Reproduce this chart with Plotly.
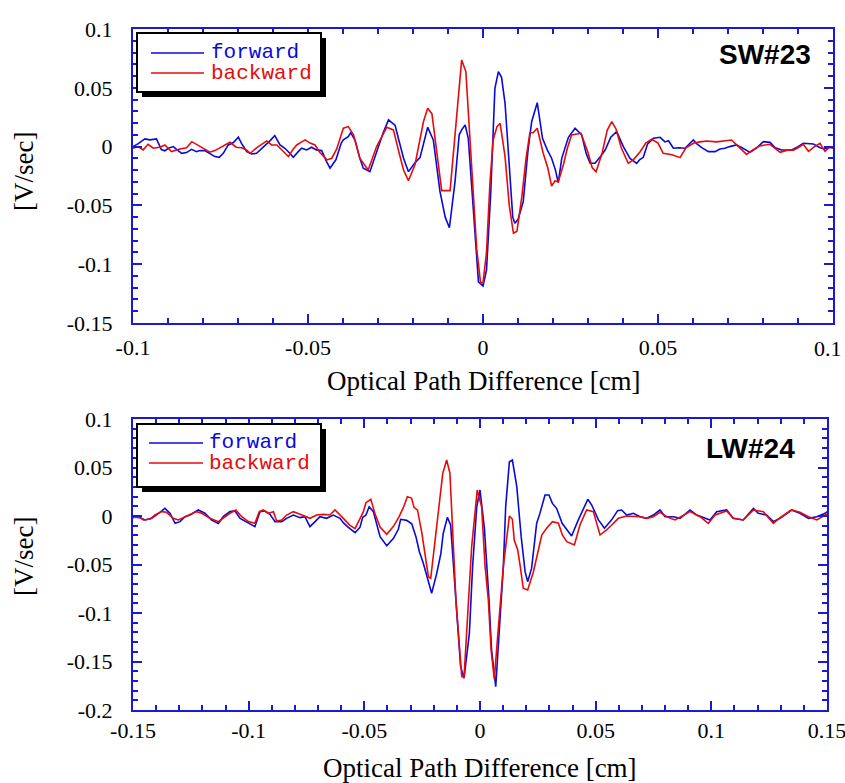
import plotly.graph_objects as go

# ---------------- data ----------------
sw_fwd_x = [-0.1000,-0.0985,-0.0966,-0.0952,-0.0933,-0.0919,-0.0909,-0.0899,-0.0885,-0.0871,-0.0861,-0.0847,-0.0833,-0.0818,-0.0809,-0.0795,-0.0780,-0.0766,-0.0754,-0.0742,-0.0728,-0.0713,-0.0699,-0.0690,-0.0675,-0.0661,-0.0647,-0.0633,-0.0618,-0.0606,-0.0595,-0.0580,-0.0566,-0.0552,-0.0542,-0.0528,-0.0518,-0.0504,-0.0490,-0.0476,-0.0461,-0.0447,-0.0437,-0.0420,-0.0405,-0.0399,-0.0385,-0.0378,-0.0365,-0.0352,-0.0342,-0.0323,-0.0305,-0.0285,-0.0270,-0.0251,-0.0240,-0.0227,-0.0213,-0.0195,-0.0180,-0.0168,-0.0158,-0.0142,-0.0123,-0.0108,-0.0096,-0.0080,-0.0068,-0.0061,-0.0051,-0.0042,-0.0028,-0.0013,0.0000,0.0010,0.0022,0.0034,0.0044,0.0053,0.0063,0.0075,0.0085,0.0091,0.0100,0.0115,0.0128,0.0139,0.0155,0.0170,0.0184,0.0196,0.0207,0.0215,0.0225,0.0244,0.0263,0.0282,0.0295,0.0306,0.0320,0.0334,0.0349,0.0365,0.0382,0.0401,0.0420,0.0439,0.0448,0.0458,0.0470,0.0487,0.0506,0.0520,0.0530,0.0544,0.0560,0.0577,0.0590,0.0601,0.0612,0.0625,0.0644,0.0663,0.0677,0.0691,0.0705,0.0724,0.0740,0.0763,0.0782,0.0801,0.0820,0.0835,0.0853,0.0882,0.0900,0.0915,0.0944,0.0963,0.0975,0.0991,0.1000]
sw_fwd_y = [0.0000,0.0025,0.0065,0.0057,0.0065,-0.0025,-0.0036,-0.0014,0.0000,-0.0034,-0.0057,-0.0051,-0.0023,-0.0043,-0.0034,-0.0034,-0.0057,-0.0085,-0.0091,-0.0057,0.0014,0.0034,0.0080,0.0028,-0.0043,-0.0063,-0.0057,-0.0014,0.0023,0.0057,0.0094,0.0014,-0.0014,-0.0057,-0.0091,-0.0043,-0.0014,-0.0028,-0.0005,-0.0028,-0.0034,-0.0128,-0.0184,-0.0110,0.0030,0.0057,0.0085,0.0118,0.0050,-0.0100,-0.0184,-0.0213,-0.0060,0.0120,0.0227,0.0180,0.0050,-0.0099,-0.0213,-0.0140,-0.0094,0.0060,0.0164,0.0057,-0.0380,-0.0600,-0.0690,-0.0300,0.0100,0.0142,0.0184,0.0070,-0.0500,-0.1150,-0.1185,-0.1050,-0.0400,0.0496,0.0637,0.0589,0.0368,-0.0200,-0.0600,-0.0652,-0.0620,-0.0468,-0.0050,0.0212,0.0373,0.0071,-0.0030,-0.0099,-0.0200,-0.0307,-0.0100,0.0079,0.0156,0.0099,-0.0060,-0.0142,-0.0142,-0.0090,-0.0029,0.0080,0.0127,0.0000,-0.0100,-0.0142,-0.0110,-0.0091,0.0020,0.0071,0.0079,0.0040,0.0050,-0.0014,-0.0010,-0.0014,0.0020,0.0056,0.0020,-0.0009,-0.0043,-0.0043,-0.0020,-0.0014,0.0000,0.0014,-0.0010,-0.0049,-0.0010,0.0042,0.0036,-0.0010,-0.0029,-0.0029,0.0000,0.0028,0.0022,-0.0010,-0.0020,-0.0005,-0.0010]

sw_bwd_x = [-0.1000,-0.0985,-0.0971,-0.0957,-0.0942,-0.0923,-0.0909,-0.0890,-0.0866,-0.0847,-0.0832,-0.0814,-0.0799,-0.0780,-0.0766,-0.0752,-0.0737,-0.0723,-0.0705,-0.0690,-0.0675,-0.0665,-0.0647,-0.0633,-0.0618,-0.0604,-0.0589,-0.0571,-0.0556,-0.0542,-0.0532,-0.0518,-0.0508,-0.0494,-0.0480,-0.0466,-0.0446,-0.0432,-0.0418,-0.0399,-0.0385,-0.0370,-0.0352,-0.0328,-0.0304,-0.0275,-0.0256,-0.0240,-0.0227,-0.0213,-0.0194,-0.0170,-0.0158,-0.0146,-0.0118,-0.0094,-0.0075,-0.0061,-0.0049,-0.0035,-0.0018,-0.0007,0.0000,0.0010,0.0020,0.0029,0.0040,0.0049,0.0063,0.0075,0.0087,0.0097,0.0111,0.0123,0.0134,0.0144,0.0155,0.0172,0.0185,0.0196,0.0206,0.0215,0.0230,0.0241,0.0253,0.0280,0.0300,0.0312,0.0323,0.0340,0.0355,0.0368,0.0380,0.0395,0.0415,0.0430,0.0449,0.0465,0.0482,0.0500,0.0515,0.0540,0.0563,0.0580,0.0601,0.0620,0.0639,0.0667,0.0690,0.0710,0.0730,0.0753,0.0770,0.0791,0.0820,0.0849,0.0870,0.0887,0.0900,0.0915,0.0930,0.0945,0.0963,0.0977,0.0990,0.1000]
sw_bwd_y = [-0.0014,0.0000,-0.0028,0.0020,-0.0014,-0.0006,0.0014,-0.0042,-0.0020,-0.0010,0.0042,0.0010,-0.0010,-0.0048,-0.0034,-0.0010,0.0010,0.0037,-0.0005,-0.0010,-0.0030,-0.0057,-0.0010,0.0020,0.0048,0.0014,0.0014,-0.0040,-0.0085,-0.0020,0.0014,0.0040,0.0057,0.0030,0.0014,-0.0050,-0.0113,-0.0099,-0.0020,0.0156,0.0170,0.0100,-0.0099,-0.0199,0.0000,0.0164,0.0142,-0.0050,-0.0199,-0.0290,-0.0150,0.0213,0.0326,0.0280,-0.0374,-0.0374,0.0300,0.0737,0.0638,0.0000,-0.0870,-0.1157,-0.1157,-0.0900,-0.0300,0.0056,0.0170,0.0198,-0.0086,-0.0500,-0.0737,-0.0720,-0.0426,-0.0100,0.0118,0.0120,0.0156,-0.0057,-0.0180,-0.0335,-0.0290,-0.0300,-0.0150,-0.0014,0.0099,0.0113,-0.0050,-0.0180,-0.0213,-0.0060,0.0140,0.0212,0.0150,-0.0010,-0.0142,-0.0110,-0.0043,0.0030,0.0062,0.0030,-0.0057,-0.0070,-0.0094,-0.0010,0.0028,0.0040,0.0048,0.0040,0.0050,0.0056,0.0000,-0.0066,-0.0030,0.0006,0.0020,-0.0049,-0.0030,-0.0030,-0.0010,0.0020,-0.0040,-0.0005,0.0028,-0.0040,-0.0005,-0.0015]

lw_fwd_x = [-0.1500,-0.1470,-0.1448,-0.1419,-0.1384,-0.1362,-0.1340,-0.1318,-0.1297,-0.1275,-0.1254,-0.1218,-0.1189,-0.1160,-0.1131,-0.1110,-0.1081,-0.1059,-0.1037,-0.1009,-0.0973,-0.0951,-0.0930,-0.0908,-0.0886,-0.0857,-0.0836,-0.0807,-0.0778,-0.0757,-0.0735,-0.0713,-0.0692,-0.0663,-0.0634,-0.0605,-0.0591,-0.0569,-0.0540,-0.0519,-0.0507,-0.0493,-0.0479,-0.0461,-0.0447,-0.0432,-0.0403,-0.0374,-0.0353,-0.0343,-0.0317,-0.0295,-0.0277,-0.0262,-0.0245,-0.0209,-0.0187,-0.0169,-0.0159,-0.0141,-0.0127,-0.0101,-0.0084,-0.0069,-0.0046,-0.0032,-0.0014,0.0000,0.0019,0.0039,0.0050,0.0068,0.0082,0.0101,0.0111,0.0127,0.0140,0.0159,0.0178,0.0195,0.0206,0.0223,0.0245,0.0259,0.0281,0.0298,0.0313,0.0331,0.0355,0.0378,0.0396,0.0425,0.0447,0.0466,0.0483,0.0512,0.0538,0.0569,0.0595,0.0612,0.0634,0.0663,0.0692,0.0721,0.0749,0.0778,0.0800,0.0836,0.0865,0.0908,0.0937,0.0973,0.0994,0.1023,0.1066,0.1095,0.1138,0.1182,0.1203,0.1239,0.1268,0.1297,0.1347,0.1383,0.1420,0.1456,0.1492,0.1500]
lw_fwd_y = [-0.0010,-0.0017,-0.0041,-0.0024,0.0038,0.0079,0.0028,-0.0076,-0.0058,-0.0007,0.0010,0.0062,0.0028,-0.0041,-0.0076,-0.0007,0.0045,0.0052,-0.0024,-0.0058,-0.0110,0.0045,0.0052,0.0017,-0.0058,-0.0058,-0.0024,0.0010,-0.0017,-0.0007,-0.0110,-0.0058,-0.0007,-0.0024,0.0010,-0.0024,-0.0069,-0.0117,-0.0172,-0.0117,-0.0014,0.0010,0.0096,0.0045,-0.0076,-0.0213,-0.0306,-0.0230,-0.0137,-0.0034,-0.0045,-0.0081,-0.0213,-0.0368,-0.0488,-0.0797,-0.0591,-0.0385,-0.0180,-0.0014,-0.0093,-0.0935,-0.1550,-0.1673,-0.1210,-0.0520,0.0096,0.0268,-0.0127,-0.0866,-0.1380,-0.1760,-0.1280,-0.0520,0.0096,0.0560,0.0577,0.0302,-0.0213,-0.0574,-0.0677,-0.0540,-0.0075,0.0027,0.0216,0.0216,0.0130,0.0079,-0.0075,-0.0144,-0.0206,-0.0040,0.0079,0.0172,0.0113,-0.0040,-0.0127,-0.0040,0.0055,0.0062,0.0010,0.0028,-0.0007,-0.0024,0.0010,0.0062,-0.0007,-0.0007,-0.0024,0.0062,0.0010,-0.0024,-0.0041,0.0045,0.0062,-0.0024,-0.0041,0.0079,0.0028,0.0010,-0.0058,-0.0024,0.0062,0.0028,-0.0024,-0.0007,0.0028,0.0045]

lw_bwd_x = [-0.1500,-0.1476,-0.1455,-0.1426,-0.1405,-0.1376,-0.1355,-0.1326,-0.1304,-0.1283,-0.1261,-0.1225,-0.1203,-0.1167,-0.1131,-0.1102,-0.1081,-0.1055,-0.1030,-0.1001,-0.0973,-0.0954,-0.0937,-0.0915,-0.0893,-0.0879,-0.0857,-0.0836,-0.0807,-0.0778,-0.0735,-0.0706,-0.0677,-0.0649,-0.0627,-0.0598,-0.0562,-0.0540,-0.0519,-0.0504,-0.0493,-0.0472,-0.0453,-0.0432,-0.0403,-0.0374,-0.0349,-0.0329,-0.0314,-0.0296,-0.0285,-0.0270,-0.0251,-0.0223,-0.0213,-0.0184,-0.0161,-0.0144,-0.0130,-0.0104,-0.0079,-0.0069,-0.0036,-0.0012,0.0007,0.0022,0.0036,0.0048,0.0062,0.0075,0.0101,0.0127,0.0140,0.0148,0.0163,0.0173,0.0187,0.0206,0.0231,0.0267,0.0288,0.0313,0.0339,0.0356,0.0375,0.0408,0.0432,0.0461,0.0490,0.0519,0.0547,0.0569,0.0598,0.0634,0.0663,0.0692,0.0721,0.0749,0.0778,0.0807,0.0843,0.0879,0.0908,0.0951,0.0987,0.1016,0.1066,0.1095,0.1138,0.1182,0.1225,0.1268,0.1297,0.1347,0.1383,0.1420,0.1456,0.1492,0.1500]
lw_bwd_y = [-0.0017,-0.0007,-0.0041,-0.0031,0.0010,0.0045,0.0038,-0.0024,-0.0041,-0.0017,0.0010,0.0045,0.0028,-0.0024,-0.0058,-0.0007,0.0028,0.0062,-0.0007,-0.0058,-0.0076,0.0045,0.0062,0.0028,0.0045,-0.0052,-0.0041,0.0010,0.0045,0.0017,-0.0024,0.0010,0.0017,0.0010,0.0062,-0.0007,-0.0096,-0.0130,-0.0030,0.0045,0.0137,0.0172,0.0017,-0.0113,-0.0189,-0.0106,-0.0003,0.0100,0.0199,0.0185,0.0089,0.0060,-0.0182,-0.0626,-0.0643,-0.0075,0.0440,0.0577,0.0440,-0.0870,-0.1656,-0.1660,-0.0316,0.0268,0.0096,-0.0522,-0.0866,-0.1380,-0.1684,-0.1280,-0.0520,0.0000,-0.0034,-0.0247,-0.0350,-0.0505,-0.0745,-0.0763,-0.0574,-0.0196,-0.0127,-0.0058,-0.0075,-0.0196,-0.0264,-0.0299,-0.0093,0.0062,0.0045,-0.0196,-0.0144,-0.0093,-0.0024,0.0000,-0.0007,-0.0007,-0.0024,-0.0007,0.0038,-0.0007,-0.0041,0.0010,0.0045,-0.0007,-0.0076,0.0010,0.0052,-0.0024,-0.0041,0.0062,0.0045,-0.0076,-0.0017,0.0062,0.0038,-0.0007,-0.0041,0.0010,0.0020]

series_names = ["forward", "backward"]
panel_labels = ["SW#23", "LW#24"]
x_title = "Optical Path Difference [cm]"
y_title = "[V/sec]"

sw_xticks = [-0.1, -0.05, 0, 0.05, 0.1]
sw_xtext = ["-0.1", "-0.05", "0", "0.05", "0.1"]
sw_yticks = [-0.15, -0.1, -0.05, 0, 0.05, 0.1]
sw_ytext = ["-0.15", "-0.1", "-0.05", "0", "0.05", "0.1"]
lw_xticks = [-0.15, -0.1, -0.05, 0, 0.05, 0.1, 0.15]
lw_xtext = ["-0.15", "-0.1", "-0.05", "0", "0.05", "0.1", "0.15"]
lw_yticks = [-0.2, -0.15, -0.1, -0.05, 0, 0.05, 0.1]
lw_ytext = ["-0.2", "-0.15", "-0.1", "-0.05", "0", "0.05", "0.1"]

# ---------------- style ----------------
W, H = 845, 783
BLUE = "#0a0ad8"
RED = "#e80a0a"
AXC = "#1a1ad6"
SERIF = "Liberation Serif, Times New Roman, serif"
MONO = "Liberation Mono, Courier New, monospace"
SANS = "Liberation Sans, Arial, sans-serif"
EPS = 1e-7


def fx(p):
    return p / W


def fy(p):
    return 1 - p / H


fig = go.Figure()
fig.add_trace(go.Scatter(x=sw_fwd_x, y=sw_fwd_y, mode="lines", name=series_names[0],
                         line=dict(color=BLUE, width=1.6), xaxis="x", yaxis="y"))
fig.add_trace(go.Scatter(x=sw_bwd_x, y=sw_bwd_y, mode="lines", name=series_names[1],
                         line=dict(color=RED, width=1.6), xaxis="x", yaxis="y"))
fig.add_trace(go.Scatter(x=lw_fwd_x, y=lw_fwd_y, mode="lines", name=series_names[0],
                         line=dict(color=BLUE, width=1.6), xaxis="x2", yaxis="y2"))
fig.add_trace(go.Scatter(x=lw_bwd_x, y=lw_bwd_y, mode="lines", name=series_names[1],
                         line=dict(color=RED, width=1.6), xaxis="x2", yaxis="y2"))


def axis(domain, rng, tv, tt, anchor, standoff):
    return dict(domain=domain, range=[rng[0] - EPS, rng[1] + EPS], anchor=anchor,
                tickvals=tv, ticktext=tt, automargin=False, ticklabeloverflow="allow",
                showline=True, linecolor=AXC, linewidth=2, mirror="allticks",
                ticks="inside", ticklen=9, tickwidth=1.5, tickcolor=AXC,
                showgrid=False, zeroline=False, ticklabelstandoff=standoff,
                tickfont=dict(family=SERIF, size=22, color="black"),
                minor=dict(dtick=0.01, tick0=0, ticks="inside", ticklen=5,
                           tickwidth=1.5, tickcolor=AXC, showgrid=False))


# the last label of the upper x axis sits at the page edge: drawn as an annotation nudged inward
sw_xtext_axis = sw_xtext[:-1] + [""]

fig.update_layout(
    template="none",
    width=W, height=H, margin=dict(l=0, r=0, t=0, b=0),
    paper_bgcolor="white", plot_bgcolor="white", showlegend=False,
    xaxis=axis([fx(133), fx(833)], [-0.1, 0.1], sw_xticks, sw_xtext_axis, "y", 4),
    yaxis=axis([fy(323), fy(29)], [-0.15, 0.1], sw_yticks, sw_ytext, "x", 14),
    xaxis2=axis([fx(133), fx(827)], [-0.15, 0.15], lw_xticks, lw_xtext, "y2", 0),
    yaxis2=axis([fy(710), fy(419)], [-0.2, 0.1], lw_yticks, lw_ytext, "x2", 14),
)

shapes = []
ann = []

ann.append(dict(xref="paper", yref="paper", x=fx(844), y=fy(348), text=sw_xtext[-1],
                showarrow=False, xanchor="right", yanchor="middle",
                font=dict(family=SERIF, size=22, color="black")))

# legends (drawn as boxes with drop shadow)
for (bx0, by0, bx1, by1, ly1, ly2, lx0, lx1, tx) in [
        (137, 33, 321, 92, 53, 73, 151, 204, 209),
        (137, 424, 321, 487, 443, 463, 149, 203, 207)]:
    shapes.append(dict(type="rect", xref="paper", yref="paper", x0=fx(bx0 + 5), x1=fx(bx1 + 5),
                       y0=fy(by1 + 5), y1=fy(by0 + 5), fillcolor="black", line=dict(width=0)))
    shapes.append(dict(type="rect", xref="paper", yref="paper", x0=fx(bx0), x1=fx(bx1),
                       y0=fy(by1), y1=fy(by0), fillcolor="white", line=dict(color="black", width=2)))
    for yy, col, nm in [(ly1, BLUE, series_names[0]), (ly2, RED, series_names[1])]:
        shapes.append(dict(type="line", xref="paper", yref="paper", x0=fx(lx0), x1=fx(lx1),
                           y0=fy(yy), y1=fy(yy), line=dict(color=col, width=1.6)))
        ann.append(dict(xref="paper", yref="paper", x=fx(tx), y=fy(yy), text=nm, showarrow=False,
                        xanchor="left", yanchor="middle", height=19, valign="middle",
                        font=dict(family=MONO, size=21, color=col)))

# panel labels
ann.append(dict(xref="paper", yref="paper", x=fx(813), y=fy(54), text="<b>%s</b>" % panel_labels[0],
                showarrow=False, xanchor="right", yanchor="middle",
                font=dict(family=SANS, size=28, color="black")))
ann.append(dict(xref="paper", yref="paper", x=fx(797), y=fy(448), text="<b>%s</b>" % panel_labels[1],
                showarrow=False, xanchor="right", yanchor="middle",
                font=dict(family=SANS, size=28, color="black")))

# axis titles
for xc, yc in [(484, 381), (480, 768)]:
    ann.append(dict(xref="paper", yref="paper", x=fx(xc), y=fy(yc), text=x_title, showarrow=False,
                    xanchor="center", yanchor="middle", font=dict(family=SERIF, size=27, color="black")))
for xc, yc in [(24, 172), (24, 557)]:
    ann.append(dict(xref="paper", yref="paper", x=fx(xc), y=fy(yc), text=y_title, showarrow=False,
                    textangle=-90, xanchor="center", yanchor="middle",
                    font=dict(family=SERIF, size=27, color="black")))

fig.update_layout(shapes=shapes, annotations=ann)
fig.write_html("out.html")
